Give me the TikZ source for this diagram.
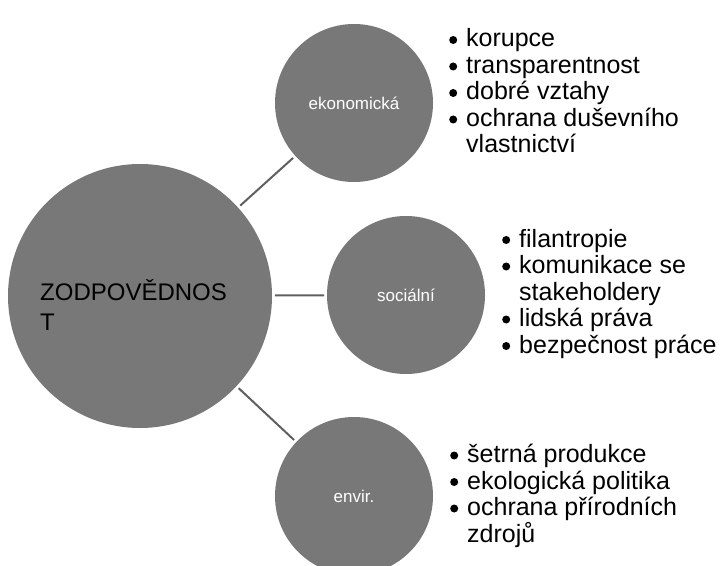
\documentclass[tikz,border=0pt]{standalone}
\usepackage{fontspec}
\setmainfont{Liberation Sans}
\definecolor{kruhseda}{RGB}{120,120,120}
\definecolor{spojseda}{RGB}{95,95,95}
\newcommand{\odr}{\makebox[17bp][l]{\tikz[baseline=0pt,x=1bp,y=1bp]
    \fill (4,7) circle (4);}}
\newcommand{\pokr}{\hspace*{17bp}}

\begin{document}
\begin{tikzpicture}[x=1bp,y=-1bp,
    kruh/.style={circle,fill=kruhseda,inner sep=0pt,outer sep=0pt,
        text=white,font=\fontsize{17bp}{20bp}\selectfont},
    seznam/.style={anchor=base west,align=left,inner sep=0pt,
        font=\fontsize{25bp}{26.5bp}\selectfont},
    spoj/.style={draw=spojseda,line width=2bp,shorten <=3bp,shorten >=3bp}]
    \useasboundingbox (0,0) rectangle (724,566);

    \node[kruh,minimum size=264bp] (zod) at (140,296) {};
    \node[anchor=base west,align=left,inner sep=0pt,
            font=\fontsize{24bp}{30bp}\selectfont] (zodtext) at (40,330)
            {ZODPOVĚDNOS\\T};

    \node[kruh,minimum size=158bp] (eko) at (354,103)
            {ekonomická};
    \node[kruh,minimum size=158bp] (soc) at (406,295)
            {sociální};
    \node[kruh,minimum size=158bp] (env) at (354,496)
            {envir.};

    \node[seznam] (ekolist) at (449,153)
            {\odr korupce\\
             \odr transparentnost\\
             \odr dobré vztahy\\
             \odr ochrana duševního\\
             \pokr vlastnictví};
    \node[seznam] (soclist) at (502,353)
            {\odr filantropie\\
             \odr komunikace se\\
             \pokr stakeholdery\\
             \odr lidská práva\\
             \odr bezpečnost práce};
    \node[seznam] (envlist) at (450,542)
            {\odr šetrná produkce\\
             \odr ekologická politika\\
             \odr ochrana přírodních\\
             \pokr zdrojů};

    \draw[spoj] (zod) -- (eko);
    \draw[spoj] (zod) -- (soc);
    \draw[spoj] (zod) -- (env);
\end{tikzpicture}
\end{document}
